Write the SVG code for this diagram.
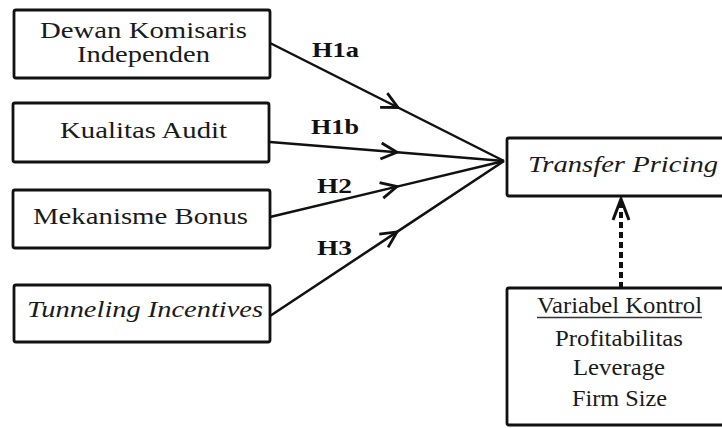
<svg xmlns="http://www.w3.org/2000/svg" width="722" height="428" viewBox="0 0 722 428">
<defs>
<marker id="chev" markerUnits="userSpaceOnUse" markerWidth="30" markerHeight="30" viewBox="-20 -15 30 30" refX="0" refY="0" orient="auto">
<path d="M-16,-8 L0,0 L-16,8" fill="none" stroke="#111" stroke-width="2.8"/>
</marker>
</defs>
<rect width="722" height="428" fill="#fff"/>
<g id="connectors" fill="none" stroke="#111" stroke-width="2.5">
<path d="M270,43 L398,107.5 L504,161" marker-mid="url(#chev)"/>
<path d="M270,142 L397,152.3 L504,161" marker-mid="url(#chev)"/>
<path d="M270,217 L397,186.6 L504,161" marker-mid="url(#chev)"/>
<path d="M270,316 L397,231.9 L504,161" marker-mid="url(#chev)"/>
<line x1="621" y1="288" x2="621" y2="203" stroke-width="4" stroke-dasharray="6 4"/>
<path d="M613,220 L621,199 L629,220" stroke-width="3"/>
</g>
<g id="labels" font-family="Liberation Serif, Times New Roman, serif" font-size="22" font-weight="bold" fill="#111">
<text x="312" y="57" textLength="47" lengthAdjust="spacingAndGlyphs">H1a</text>
<text x="311" y="134" textLength="48" lengthAdjust="spacingAndGlyphs">H1b</text>
<text x="317" y="193" textLength="35" lengthAdjust="spacingAndGlyphs">H2</text>
<text x="317" y="255" textLength="35" lengthAdjust="spacingAndGlyphs">H3</text>
</g>
<g font-family="Liberation Serif, Times New Roman, serif" font-size="24" fill="#1a1a1a">
<g id="dewan">
<rect x="14" y="10" width="256" height="68" rx="2" fill="#fff" stroke="#111" stroke-width="2.8"/>
<text x="40" y="38" textLength="207" lengthAdjust="spacingAndGlyphs">Dewan Komisaris</text>
<text x="77" y="62" textLength="133" lengthAdjust="spacingAndGlyphs">Independen</text>
</g>
<g id="kualitas">
<rect x="13" y="103" width="256" height="59" rx="2" fill="#fff" stroke="#111" stroke-width="2.8"/>
<text x="60" y="138" textLength="167" lengthAdjust="spacingAndGlyphs">Kualitas Audit</text>
</g>
<g id="bonus">
<rect x="13" y="190" width="257" height="58" rx="2" fill="#fff" stroke="#111" stroke-width="2.8"/>
<text x="33" y="224" textLength="215" lengthAdjust="spacingAndGlyphs">Mekanisme Bonus</text>
</g>
<g id="tunneling">
<rect x="14" y="285" width="256" height="57" rx="2" fill="#fff" stroke="#111" stroke-width="2.8"/>
<text x="27" y="317" font-style="italic" textLength="236" lengthAdjust="spacingAndGlyphs">Tunneling Incentives</text>
</g>
<g id="transfer">
<rect x="507" y="138" width="225" height="58" rx="2" fill="#fff" stroke="#111" stroke-width="2.8"/>
<text x="528" y="172" font-style="italic" textLength="190" lengthAdjust="spacingAndGlyphs">Transfer Pricing</text>
</g>
<g id="kontrol">
<rect x="507" y="288" width="225" height="137" rx="2" fill="#fff" stroke="#111" stroke-width="2.8"/>
<text x="537" y="313" textLength="165" lengthAdjust="spacingAndGlyphs">Variabel Kontrol</text>
<line x1="537" y1="317.5" x2="702" y2="317.5" stroke="#333" stroke-width="1.5"/>
<text x="555" y="346" textLength="128" lengthAdjust="spacingAndGlyphs">Profitabilitas</text>
<text x="573" y="375" textLength="92" lengthAdjust="spacingAndGlyphs">Leverage</text>
<text x="572" y="406" textLength="95" lengthAdjust="spacingAndGlyphs">Firm Size</text>
</g>
</g>
</svg>
